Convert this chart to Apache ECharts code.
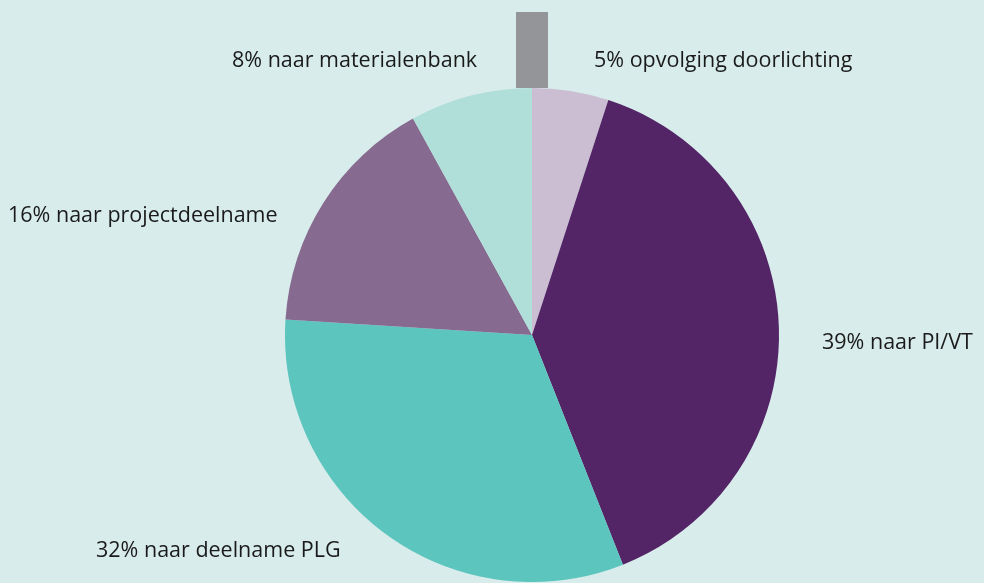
<!DOCTYPE html>
<html>
<head>
<meta charset="utf-8">
<script src="https://cdn.jsdelivr.net/npm/echarts@6/dist/echarts.min.js"></script>
<style>
  html, body { margin: 0; padding: 0; background: #d9ecec; }
  #chart { width: 984px; height: 583px; }
</style>
</head>
<body>
<div id="chart"></div>
<script>
const labels = ['5% opvolging doorlichting', '39% naar PI/VT', '32% naar deelname PLG', '16% naar projectdeelname', '8% naar materialenbank'];
const values = [5, 39, 32, 16, 8];
const colors = ['#cbbed3', '#532567', '#5cc5be', '#866a8f', '#b0dfd9'];
// label anchor points (left edge, middle) in px
const labelPos = [[594, 61], [822, 343], [96, 551], [8, 216], [232, 61]];

const chart = echarts.init(document.getElementById('chart'));
chart.setOption({
  backgroundColor: '#d9ecec',
  animation: false,
  graphic: [
    { type: 'rect', shape: { x: 516, y: 12, width: 32, height: 76 }, style: { fill: '#939598' } }
  ],
  series: [{
    type: 'pie',
    center: [532, 335],
    radius: [0, 247],
    startAngle: 90,
    clockwise: true,
    data: values.map((v, i) => ({ value: v, name: labels[i], itemStyle: { color: colors[i] } })),
    label: {
      show: true,
      position: 'outside',
      formatter: '{b}',
      color: '#1a1a1a',
      fontFamily: 'Open Sans',
      fontSize: 21.5,
      overflow: 'none'
    },
    labelLine: { show: false },
    labelLayout: (p) => ({
      x: labelPos[p.dataIndex][0],
      y: labelPos[p.dataIndex][1],
      align: 'left',
      verticalAlign: 'middle',
      width: 400
    }),
    emphasis: { disabled: true }
  }]
});
</script>
</body>
</html>
